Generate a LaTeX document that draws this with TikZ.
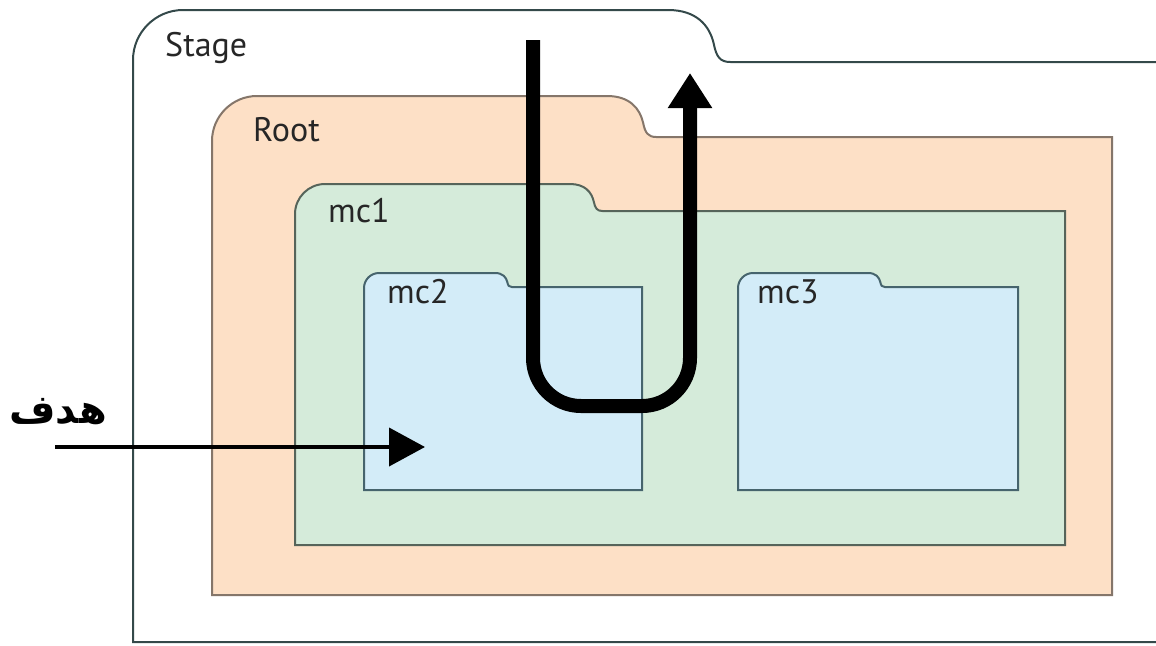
\documentclass[tikz,border=0pt]{standalone}
\usepackage{fontspec}
\setmainfont{PT Sans}
\newfontfamily\arabicfont[Script=Arabic]{DejaVu Sans}
\TeXXeTstate=1
\usetikzlibrary{arrows.meta}
\definecolor{stageline}{HTML}{34494A}
\definecolor{rootfill}{HTML}{FDE0C6}
\definecolor{rootline}{HTML}{85766A}
\definecolor{mcafill}{HTML}{D5EBDA}
\definecolor{mcaline}{HTML}{56645A}
\definecolor{mcbfill}{HTML}{D3ECF8}
\definecolor{mcbline}{HTML}{46646D}
% #1 left, #2 top, #3 tab-curve start x, #4 tab bottom y, #5 right, #6 bottom, #7 corner radius
\newcommand\folderpath[7]{(#5,#6) -- (#1,#6) -- (#1,#2+#7)
 .. controls (#1,{#2+0.45*#7}) and ({#1+0.45*#7},#2) .. ({#1+#7},#2) -- (#3,#2)
 .. controls ({#3+0.55*(#4-#2)},#2) and ({#3+0.8*(#4-#2)},{#2+0.3*(#4-#2)}) .. ({#3+0.88*(#4-#2)},{#2+0.65*(#4-#2)})
 .. controls ({#3+0.93*(#4-#2)},{#2+0.9*(#4-#2)}) and ({#3+1.0*(#4-#2)},#4) .. ({#3+1.2*(#4-#2)},#4) -- (#5,#4)}
\tikzset{
  stagebox/.style={draw=stageline, line width=2pt},
  rootbox/.style={draw=rootline, fill=rootfill, line width=2pt},
  mcabox/.style={draw=mcaline, fill=mcafill, line width=2pt},
  mcbbox/.style={draw=mcbline, fill=mcbfill, line width=2pt},
  lbl/.style={anchor=base west, inner sep=0pt, font=\fontsize{34}{40}\selectfont, text=black!85},
  bigarrow/.style={line width=14pt, rounded corners=48pt, -{Triangle[length=35pt,width=42pt]}},
  thinarrow/.style={line width=4pt, -{Triangle[length=36pt,width=38pt]}}
}
\begin{document}
\begin{tikzpicture}[x=1pt,y=-1pt]
\useasboundingbox[fill=white] (0,0) rectangle (1156,645);
% folders
\draw[stagebox] \folderpath{133}{10}{668}{62}{1162}{642}{50};
\filldraw[rootbox] \folderpath{212}{96}{607}{137}{1112}{595}{45} -- cycle;
\filldraw[mcabox] \folderpath{295}{184}{570}{211}{1065}{545}{30} -- cycle;
\filldraw[mcbbox] \folderpath{364}{273}{495}{287}{642}{490}{15} -- cycle;
\filldraw[mcbbox] \folderpath{738}{273}{868}{287}{1018}{490}{15} -- cycle;
% labels
\node[lbl] (stage) at (165,56) {Stage};
\node[lbl] (root) at (253,141) {Root};
\node[lbl] (mc1) at (328,222) {mc1};
\node[lbl] (mc2) at (387,303) {mc2};
\node[lbl] (mc3) at (757,303) {mc3};
\node[anchor=base east, inner sep=0pt, font=\arabicfont\bfseries\fontsize{40}{46}\selectfont] (target) at (107,423) {\beginR هدف\endR};
% arrows
\coordinate (ustart) at (533,40);
\coordinate (ubottomleft) at (533,406);
\coordinate (ubottomright) at (690,406);
\coordinate (uend) at (690,73);
\draw[bigarrow] (ustart) -- (ubottomleft) -- (ubottomright) -- (uend);
\coordinate (hstart) at (55,447);
\coordinate (hend) at (425,447);
\draw[thinarrow] (hstart) -- (hend);
\end{tikzpicture}
\end{document}
